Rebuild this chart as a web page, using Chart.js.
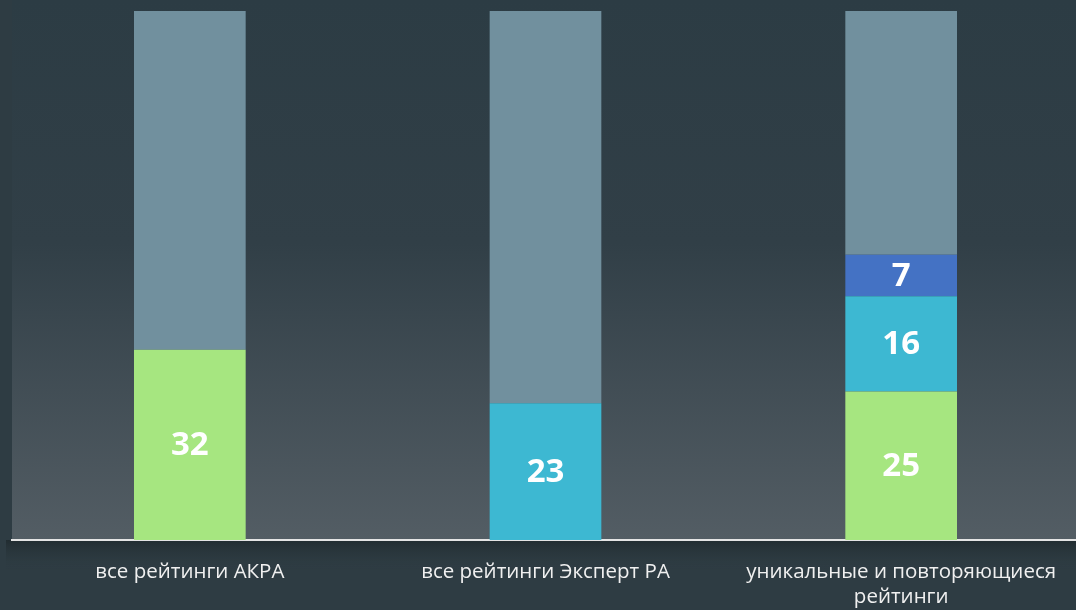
<!DOCTYPE html>
<html lang="ru">
<head>
<meta charset="utf-8">
<script src="https://cdn.jsdelivr.net/npm/chart.js@4.4.1/dist/chart.umd.min.js"></script>
<style>
    html, body { margin: 0; padding: 0; overflow: hidden; background: #2e3c43; }
    #wrap { width: 1079px; height: 610px; position: relative; }
</style>
</head>
<body>
<div id="wrap"><canvas id="ratingsChart"></canvas></div>
<script>
// данные с картинки
const categories = [
    "все рейтинги АКРА",
    "все рейтинги Эксперт РА",
    ["уникальные и повторяющиеся", "рейтинги"],
];
const greenValues = [32, null, 25];
const cyanValues = [null, 23, 16];
const blueValues = [null, null, 7];
const greyValues = [57, 66, 41]; // остаток до общего уровня
const totalMax = 89;

// фон области графика: градиент и тень под осью
const plotBackground = {
    id: "plotBackground",
    beforeDraw(chart) {
        const { ctx, chartArea, width } = chart;
        ctx.save();
        const g = ctx.createLinearGradient(0, 0, 0, chartArea.bottom);
        g.addColorStop(0, "#2c3c44");
        g.addColorStop(0.45, "#313f47");
        g.addColorStop(1, "#535d64");
        ctx.fillStyle = g;
        ctx.fillRect(chartArea.left, 0, width - chartArea.left, chartArea.bottom);

        const s = ctx.createLinearGradient(0, chartArea.bottom, 0, chartArea.bottom + 30);
        s.addColorStop(0, "#222c31");
        s.addColorStop(1, "rgba(46,60,67,0)");
        ctx.fillStyle = s;
        ctx.fillRect(chartArea.left - 6, chartArea.bottom, width, 30);
        ctx.restore();
    },
};

// подписи значений по центру сегментов
const segmentLabels = {
    id: "segmentLabels",
    afterDatasetsDraw(chart) {
        const { ctx } = chart;
        ctx.save();
        ctx.fillStyle = "#ffffff";
        ctx.font = "bold 33px 'Open Sans'";
        ctx.textAlign = "center";
        ctx.textBaseline = "middle";
        chart.data.datasets.forEach((ds, i) => {
            if (ds.hideLabel) return;
            chart.getDatasetMeta(i).data.forEach((bar, j) => {
                const v = ds.data[j];
                if (v == null) return;
                ctx.fillText(String(v), bar.x, (bar.y + bar.base) / 2 + 1);
            });
        });
        ctx.restore();
    },
};

const barOpts = { barPercentage: 0.314, categoryPercentage: 1, borderWidth: 0 };

new Chart(document.getElementById("ratingsChart"), {
    type: "bar",
    data: {
        labels: categories,
        datasets: [
            { label: "АКРА", data: greenValues, backgroundColor: "#a6e680", ...barOpts },
            { label: "Эксперт РА", data: cyanValues, backgroundColor: "#3db8d2", ...barOpts },
            { label: "Повторяющиеся", data: blueValues, backgroundColor: "#4472c4", ...barOpts },
            { label: "Остальные", data: greyValues, backgroundColor: "#71909e", hideLabel: true, ...barOpts },
        ],
    },
    options: {
        responsive: true,
        maintainAspectRatio: false,
        animation: false,
        layout: { padding: { top: 11, left: 12, right: 0, bottom: 0 } },
        plugins: {
            legend: { display: false },
            tooltip: { enabled: false },
        },
        scales: {
            x: {
                stacked: true,
                grid: { display: false, drawTicks: false },
                border: { display: true, color: "#e4e4e4", width: 2 },
                ticks: {
                    color: "#f0f0f0",
                    padding: 20,
                    font: { family: "'Open Sans'", size: 20.5, lineHeight: 1.2 },
                    maxRotation: 0,
                    autoSkip: false,
                },
                afterFit(scale) { scale.height = 70; },
            },
            y: {
                stacked: true,
                display: false,
                min: 0,
                max: totalMax,
            },
        },
    },
    plugins: [plotBackground, segmentLabels],
});
</script>
</body>
</html>
